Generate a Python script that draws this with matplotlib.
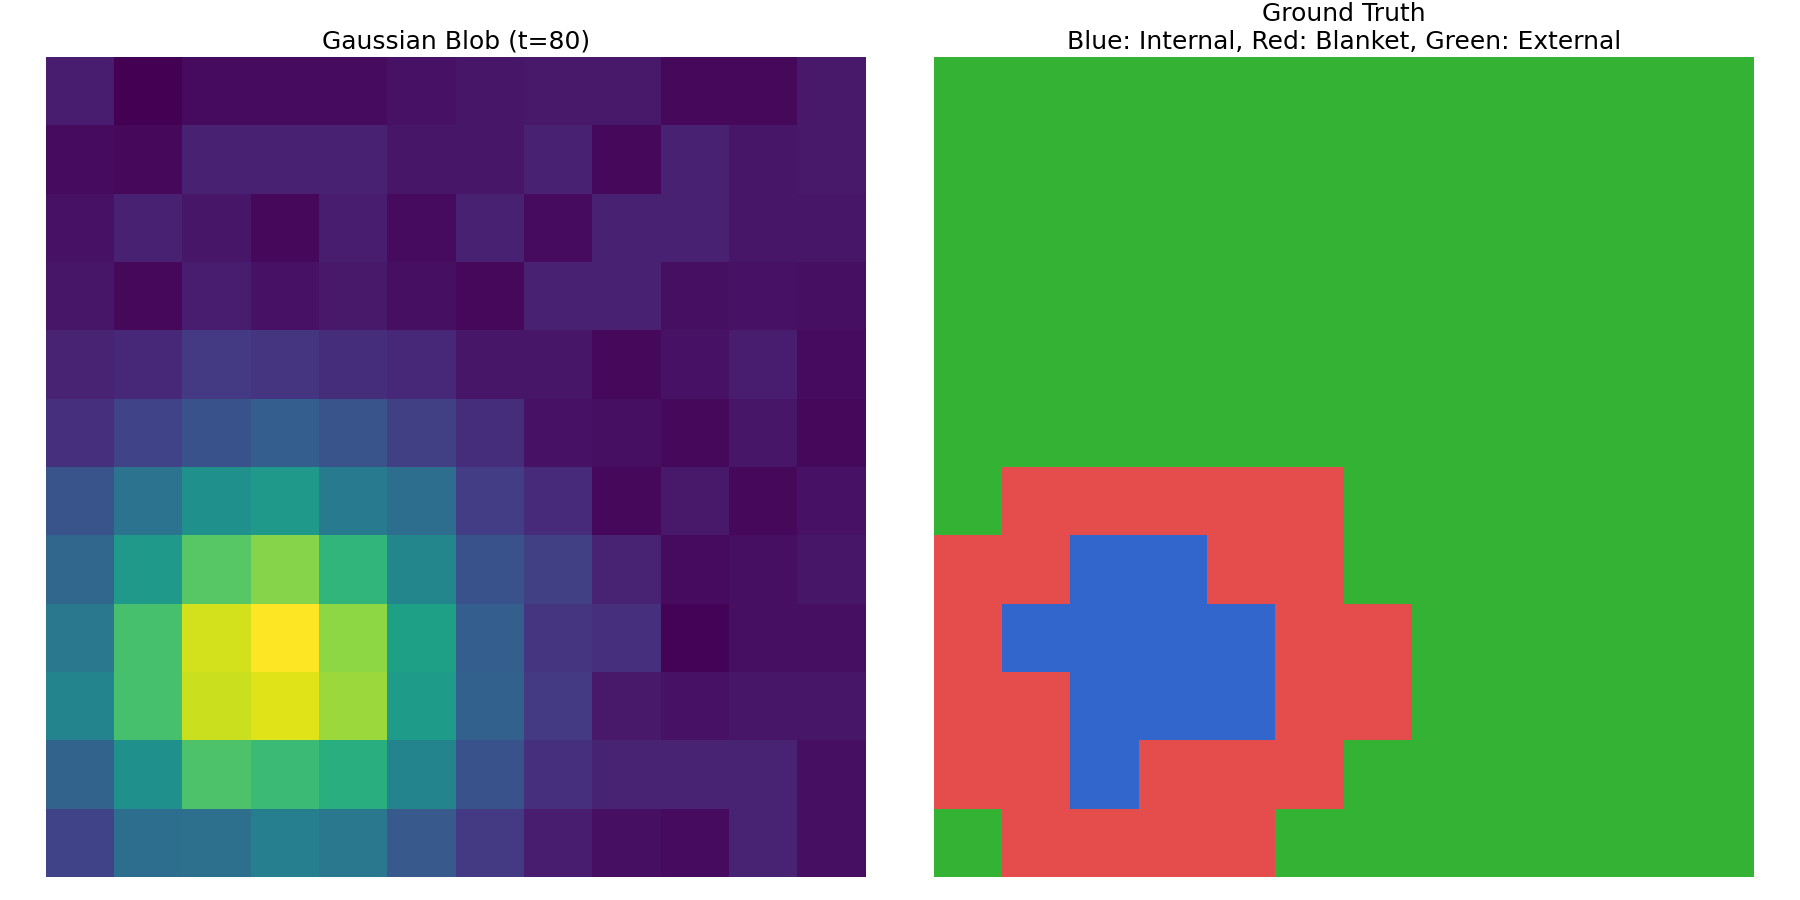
import numpy as np
import matplotlib
matplotlib.use("Agg")
from matplotlib import pyplot as plt
from matplotlib.colors import ListedColormap

# blob intensity (12x12)
blob = [
    [0.08, 0.00, 0.03, 0.03, 0.03, 0.05, 0.06, 0.07, 0.07, 0.02, 0.02, 0.07],
    [0.03, 0.02, 0.09, 0.09, 0.09, 0.06, 0.06, 0.09, 0.02, 0.09, 0.06, 0.07],
    [0.05, 0.09, 0.06, 0.02, 0.08, 0.03, 0.09, 0.03, 0.09, 0.09, 0.06, 0.06],
    [0.06, 0.02, 0.08, 0.05, 0.07, 0.04, 0.02, 0.09, 0.09, 0.04, 0.05, 0.04],
    [0.10, 0.11, 0.17, 0.15, 0.13, 0.11, 0.06, 0.06, 0.02, 0.05, 0.08, 0.03],
    [0.14, 0.20, 0.25, 0.30, 0.26, 0.19, 0.13, 0.05, 0.04, 0.02, 0.06, 0.02],
    [0.26, 0.38, 0.50, 0.54, 0.41, 0.36, 0.18, 0.12, 0.02, 0.07, 0.02, 0.05],
    [0.33, 0.54, 0.74, 0.82, 0.66, 0.46, 0.25, 0.19, 0.10, 0.03, 0.04, 0.06],
    [0.40, 0.71, 0.93, 1.00, 0.83, 0.57, 0.30, 0.15, 0.14, 0.01, 0.04, 0.04],
    [0.45, 0.71, 0.92, 0.95, 0.85, 0.55, 0.31, 0.17, 0.07, 0.05, 0.06, 0.06],
    [0.32, 0.50, 0.72, 0.68, 0.63, 0.45, 0.25, 0.14, 0.10, 0.10, 0.10, 0.04],
    [0.20, 0.36, 0.37, 0.43, 0.40, 0.28, 0.17, 0.08, 0.04, 0.03, 0.10, 0.04],
]

# 0 = internal, 1 = blanket, 2 = external
labels = [
    [2, 2, 2, 2, 2, 2, 2, 2, 2, 2, 2, 2],
    [2, 2, 2, 2, 2, 2, 2, 2, 2, 2, 2, 2],
    [2, 2, 2, 2, 2, 2, 2, 2, 2, 2, 2, 2],
    [2, 2, 2, 2, 2, 2, 2, 2, 2, 2, 2, 2],
    [2, 2, 2, 2, 2, 2, 2, 2, 2, 2, 2, 2],
    [2, 2, 2, 2, 2, 2, 2, 2, 2, 2, 2, 2],
    [2, 1, 1, 1, 1, 1, 2, 2, 2, 2, 2, 2],
    [1, 1, 0, 0, 1, 1, 2, 2, 2, 2, 2, 2],
    [1, 0, 0, 0, 0, 1, 1, 2, 2, 2, 2, 2],
    [1, 1, 0, 0, 0, 1, 1, 2, 2, 2, 2, 2],
    [1, 1, 0, 1, 1, 1, 2, 2, 2, 2, 2, 2],
    [2, 1, 1, 1, 1, 2, 2, 2, 2, 2, 2, 2],
]

label_colors = ['#3366cc', '#e54c4c', '#33b233']

fig = plt.figure(figsize=(18, 9), dpi=100)
ax1 = fig.add_axes([0.0256, 0.0256, 0.4556, 0.911])
ax2 = fig.add_axes([0.5189, 0.0256, 0.4556, 0.911])

ax1.imshow(np.array(blob), cmap='viridis', interpolation='nearest')
ax1.set_title('Gaussian Blob (t=80)', fontsize=18)
ax1.axis('off')

ax2.imshow(np.array(labels), cmap=ListedColormap(label_colors), vmin=0, vmax=2,
           interpolation='nearest')
ax2.set_title('Ground Truth\nBlue: Internal, Red: Blanket, Green: External', fontsize=18)
ax2.axis('off')

fig.savefig('out.png', dpi=100)
